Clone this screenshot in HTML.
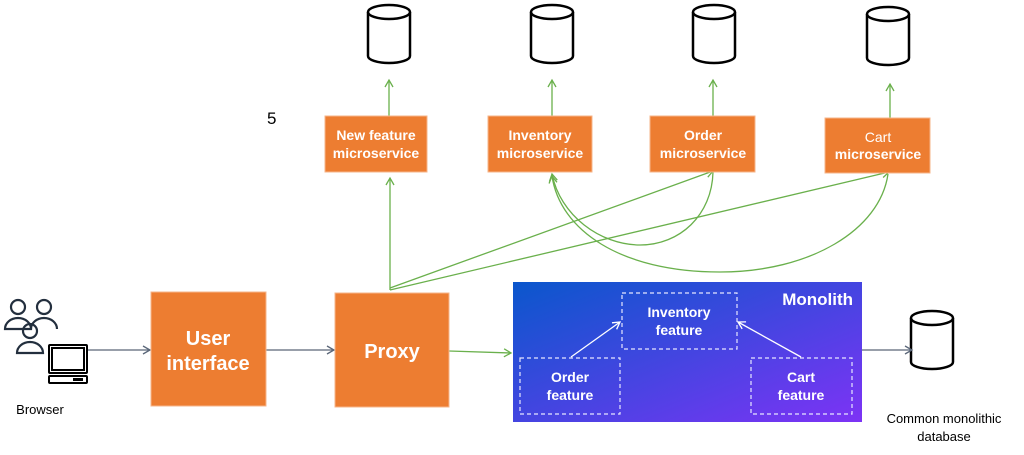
<!DOCTYPE html>
<html><head><meta charset="utf-8"><style>
html,body{margin:0;padding:0;background:#fff;}
svg{display:block;font-family:"Liberation Sans",sans-serif;}
</style></head><body>
<svg width="1024" height="455" viewBox="0 0 1024 455" xmlns="http://www.w3.org/2000/svg">
<defs>
<linearGradient id="g" x1="0" y1="0" x2="1" y2="1">
<stop offset="0" stop-color="#0a57cc"/><stop offset="1" stop-color="#7d33f5"/>
</linearGradient>
<marker id="ag" markerWidth="10" markerHeight="10" refX="8" refY="5" orient="auto" markerUnits="userSpaceOnUse"><path d="M1,1 L8,5 L1,9" fill="none" stroke="#6ab04c" stroke-width="1.3"/></marker>
<marker id="ad" markerWidth="10" markerHeight="10" refX="8" refY="5" orient="auto" markerUnits="userSpaceOnUse"><path d="M1,1 L8,5 L1,9" fill="none" stroke="#5a6678" stroke-width="1.3"/></marker>
<marker id="aw" markerWidth="10" markerHeight="10" refX="8" refY="5" orient="auto" markerUnits="userSpaceOnUse"><path d="M1,1 L8,5 L1,9" fill="none" stroke="#fff" stroke-width="1.3"/></marker>
<g id="cyl"><path d="M-21,-22 L-21,22 A21,7 0 0 0 21,22 L21,-22" fill="#fff" stroke="#000" stroke-width="2.5"/><ellipse cx="0" cy="-22" rx="21" ry="7" fill="#fff" stroke="#000" stroke-width="2.5"/></g>
</defs>
<use href="#cyl" x="389" y="34"/>
<use href="#cyl" x="552" y="34"/>
<use href="#cyl" x="714" y="34"/>
<use href="#cyl" x="888" y="36"/>
<use href="#cyl" x="932" y="340"/>
<text x="267" y="124" font-size="17">5</text>
<g fill="none" stroke="#6ab04c" stroke-width="1.3">
<line x1="389" y1="116" x2="389" y2="80" marker-end="url(#ag)"/>
<line x1="552" y1="116" x2="552" y2="80" marker-end="url(#ag)"/>
<line x1="713" y1="116" x2="713" y2="80" marker-end="url(#ag)"/>
<line x1="890" y1="118" x2="890" y2="84" marker-end="url(#ag)"/>
<line x1="390" y1="290" x2="390" y2="178" marker-end="url(#ag)"/>
<line x1="390" y1="288" x2="713" y2="171" marker-end="url(#ag)"/>
<line x1="390" y1="290" x2="889" y2="172" marker-end="url(#ag)"/>
<path d="M713,172 C712,215 680,245 640,245 C600,245 560,215 552,174" marker-end="url(#ag)"/>
<path d="M888,174 C880,230 810,272 720,272 C620,272 560,230 552,176" marker-end="url(#ag)"/>
<line x1="449" y1="351" x2="511" y2="353" marker-end="url(#ag)"/>
</g>
<g fill="none" stroke="#5a6678" stroke-width="1.3">
<line x1="88" y1="350" x2="150" y2="350" marker-end="url(#ad)"/>
<line x1="266" y1="350" x2="334" y2="350" marker-end="url(#ad)"/>
<line x1="862" y1="350" x2="912" y2="350" marker-end="url(#ad)"/>
</g>
<g fill="#ed7d31" stroke="#f6b58a" stroke-width="1">
<rect x="325" y="116" width="102" height="56"/>
<rect x="488" y="116" width="104" height="56"/>
<rect x="650" y="116" width="105" height="56"/>
<rect x="825" y="118" width="105" height="55"/>
<rect x="151" y="292" width="115" height="114"/>
<rect x="335" y="293" width="114" height="114"/>
</g>
<g fill="#fff" font-weight="bold" text-anchor="middle" font-size="14">
<text x="376" y="140">New feature</text><text x="376" y="158">microservice</text>
<text x="540" y="140">Inventory</text><text x="540" y="158">microservice</text>
<text x="703" y="140">Order</text><text x="703" y="158">microservice</text>
<text x="878" y="142" font-weight="normal">Cart</text><text x="878" y="159">microservice</text>
<text x="208" y="345" font-size="20">User</text><text x="208" y="370" font-size="20">interface</text>
<text x="392" y="358" font-size="20">Proxy</text>
</g>
<rect x="513" y="282" width="349" height="140" fill="url(#g)"/>
<text x="853" y="305" fill="#fff" font-weight="bold" font-size="17" text-anchor="end">Monolith</text>
<g fill="none" stroke="#e6e6ff" stroke-width="1.2" stroke-dasharray="4,3">
<rect x="622" y="293" width="115" height="56"/>
<rect x="520" y="358" width="100" height="56"/>
<rect x="751" y="358" width="101" height="56"/>
</g>
<g stroke="#fff" stroke-width="1.3" fill="none">
<line x1="571" y1="357" x2="620" y2="322" marker-end="url(#aw)"/>
<line x1="801" y1="357" x2="738" y2="322" marker-end="url(#aw)"/>
</g>
<g fill="#fff" font-weight="bold" text-anchor="middle" font-size="14">
<text x="679" y="317">Inventory</text><text x="679" y="335">feature</text>
<text x="570" y="382">Order</text><text x="570" y="400">feature</text>
<text x="801" y="382">Cart</text><text x="801" y="400">feature</text>
</g>
<g fill="#000" font-size="13" text-anchor="middle">
<text x="40" y="414">Browser</text>
<text x="944" y="423">Common monolithic</text>
<text x="944" y="441">database</text>
</g>
<g fill="none" stroke="#232f3e" stroke-width="2.2">
<circle cx="18" cy="307" r="7"/><path d="M5,329 a13,11 0 0 1 26,0 z"/>
<circle cx="44" cy="307" r="7"/><path d="M31,329 a13,11 0 0 1 26,0"/>
<circle cx="30" cy="331" r="7"/><path d="M17,353 a13,11 0 0 1 26,0 z"/>
</g>
<rect x="48" y="344" width="40" height="40" fill="#fff"/>
<g fill="none" stroke="#000" stroke-width="2">
<rect x="49" y="345" width="38" height="28" rx="1"/>
<rect x="52" y="348" width="32" height="22"/>
<rect x="49" y="376" width="38" height="7" rx="1"/>
</g>
<rect x="73" y="378" width="10" height="3" fill="#000"/>
</svg>
</body></html>
